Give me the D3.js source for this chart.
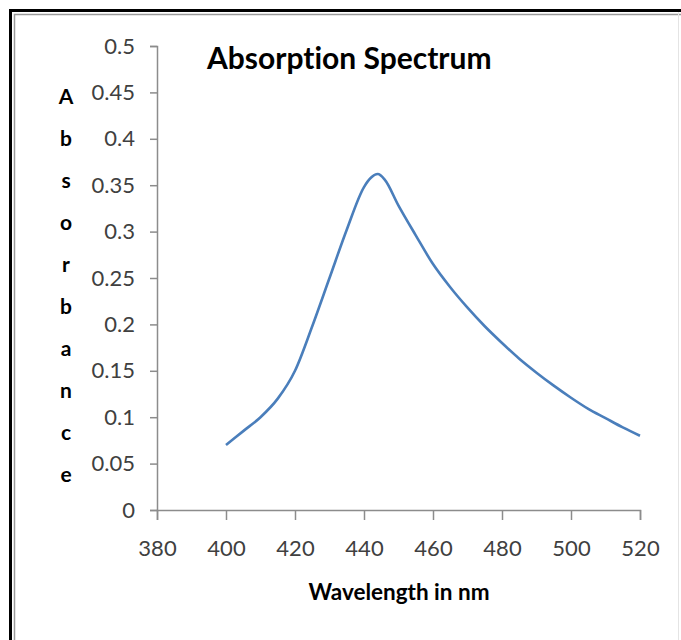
<!DOCTYPE html>
<html>
<head>
<meta charset="utf-8">
<script src="https://cdn.jsdelivr.net/npm/d3@7"></script>
<style>
  html, body { margin: 0; padding: 0; background: #fff; }
  svg { display: block; }
  text { font-variant-ligatures: none; }
</style>
</head>
<body>
<script>
// wavelength (nm) and absorbance
const wavelengths = [400, 405, 410, 415, 420, 425, 430, 435, 440, 442, 444, 446, 450, 455, 460, 465, 470, 475, 480, 485, 490, 495, 500, 505, 510, 515, 520];
const absorbance  = [0.070, 0.085, 0.100, 0.120, 0.150, 0.198, 0.250, 0.302, 0.348, 0.358, 0.362, 0.356, 0.328, 0.296, 0.265, 0.240, 0.218, 0.198, 0.180, 0.163, 0.148, 0.134, 0.121, 0.109, 0.099, 0.089, 0.080];

const xTicks = [380, 400, 420, 440, 460, 480, 500, 520];
const yTicks = [0, 0.05, 0.1, 0.15, 0.2, 0.25, 0.3, 0.35, 0.4, 0.45, 0.5];

const chartTitle = "Absorption Spectrum";
const xTitle = "Wavelength in nm";
const yTitle = "Absorbance";

const W = 681, H = 640;
const margin = { top: 46, right: 41, bottom: 130, left: 157 };

const x = d3.scaleLinear().domain([380, 520]).range([margin.left, W - margin.right]);
const y = d3.scaleLinear().domain([0, 0.5]).range([H - margin.bottom, margin.top]);

const svg = d3.select("body").append("svg")
  .attr("width", W)
  .attr("height", H);

const font = "Lato, 'Open Sans', sans-serif";

// outer frame (double line, cut off at the bottom)
svg.append("path")
  .attr("d", `M10.5,${H} V10.5 H${W}`)
  .attr("fill", "none").attr("stroke", "#000").attr("stroke-width", 3);
svg.append("path")
  .attr("d", `M14.5,${H} V14.5 H${W}`)
  .attr("fill", "none").attr("stroke", "#9a9a9a").attr("stroke-width", 1.5);
svg.append("line")
  .attr("x1", W - 2.5).attr("x2", W - 2.5).attr("y1", 12).attr("y2", H)
  .attr("stroke", "#e4e4e4").attr("stroke-width", 1);

// x axis
const xAxis = svg.append("g")
  .attr("transform", `translate(0,${y(0)})`)
  .call(d3.axisBottom(x).tickValues(xTicks).tickSize(10).tickPadding(20).tickFormat(d3.format("d")));

// y axis
const yAxis = svg.append("g")
  .attr("transform", `translate(${x(380)},0)`)
  .call(d3.axisLeft(y).tickValues(yTicks).tickSize(7).tickPadding(15).tickFormat(d => String(d)));

[xAxis, yAxis].forEach(g => {
  g.select(".domain").attr("stroke", "#8c8c8c").attr("stroke-width", 1.5);
  g.selectAll(".tick line").attr("stroke", "#8c8c8c").attr("stroke-width", 1.5);
  g.selectAll(".tick text")
    .attr("fill", "#404040")
    .style("font-family", font)
    .style("font-size", "22px");
});

// the curve
const points = wavelengths.map((w, i) => [w, absorbance[i]]);
svg.append("path")
  .datum(points)
  .attr("fill", "none")
  .attr("stroke", "#4a7ebb")
  .attr("stroke-width", 2.6)
  .attr("stroke-linejoin", "round")
  .attr("d", d3.line().x(d => x(d[0])).y(d => y(d[1])).curve(d3.curveMonotoneX));

// titles
svg.append("text")
  .attr("x", 207).attr("y", 69)
  .style("font-family", font)
  .style("font-weight", "bold")
  .style("font-size", "30px")
  .attr("fill", "#000")
  .text(chartTitle);

svg.append("text")
  .attr("x", 399).attr("y", 600)
  .attr("text-anchor", "middle")
  .style("font-family", font)
  .style("font-weight", "bold")
  .style("font-size", "22.5px")
  .attr("fill", "#000")
  .text(xTitle);

// vertical stacked letters for the y title
svg.append("g")
  .selectAll("text")
  .data(yTitle.split(""))
  .enter().append("text")
  .attr("x", 66)
  .attr("y", (d, i) => 104 + i * 42)
  .attr("text-anchor", "middle")
  .style("font-family", font)
  .style("font-weight", "bold")
  .style("font-size", "21px")
  .attr("fill", "#000")
  .text(d => d);
</script>
</body>
</html>
